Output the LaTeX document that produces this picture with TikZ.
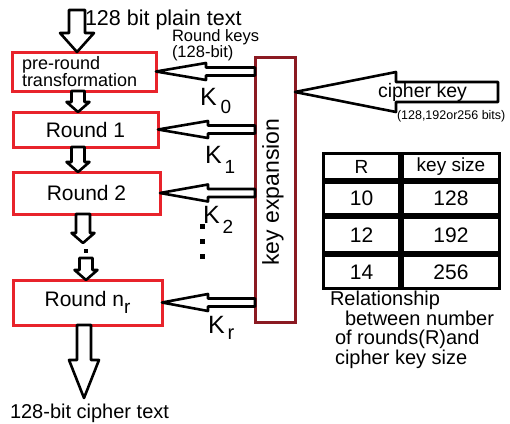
\documentclass[tikz,border=0pt]{standalone}
\usepackage{fontspec}
\setmainfont{Liberation Sans}
\usetikzlibrary{calc,matrix}
\definecolor{boxred}{HTML}{E8232B}
\definecolor{keyred}{HTML}{8B1A22}
\tikzset{
  fs/.style={font=\fontsize{#1}{#1}\selectfont},
  redbox/.style={draw=boxred, line width=3pt, inner sep=0pt, outer sep=0pt, fs=21},
  blk/.style={draw=black, fill=white, line width=2.6pt, line join=round},
  vblk/.style n args={3}{to path={let \p1=(\tikztostart),\p2=(\tikztotarget) in
     (\x1-#1pt,\y1) -- (\x1-#1pt,\y2+#3pt) -- (\x1-#2pt,\y2+#3pt) -- (\x1,\y2)
     -- (\x1+#2pt,\y2+#3pt) -- (\x1+#1pt,\y2+#3pt) -- (\x1+#1pt,\y1) -- cycle}},
  hblk/.style n args={3}{to path={let \p1=(\tikztostart),\p2=(\tikztotarget) in
     (\x1,\y1+#1pt) -- (\x2+#3pt,\y1+#1pt) -- (\x2+#3pt,\y1+#2pt) -- (\x2,\y1)
     -- (\x2+#3pt,\y1-#2pt) -- (\x2+#3pt,\y1-#1pt) -- (\x1,\y1-#1pt) -- cycle}},
  txt/.style={inner sep=0pt, outer sep=0pt},
  klabel/.style={txt, fs=25, anchor=base west},
  dotsty/.style={fill=black, rectangle, inner sep=0pt, minimum size=#1},
}
\begin{document}
\begin{tikzpicture}[x=1pt,y=-1pt]
\useasboundingbox[fill=white] (0,0) rectangle (510,423);

% round boxes
\node[redbox, minimum width=144pt, minimum height=39pt, align=left, text width=124pt,
      font=\fontsize{18}{17}\selectfont] (pre) at (84,71.5) {pre-round\\transformation};
\node[redbox, minimum width=145pt, minimum height=35pt] (r1) at (85.5,129.5) {Round 1};
\node[redbox, minimum width=147pt, minimum height=42pt] (r2) at (86.5,193) {Round 2};
\node[redbox, minimum width=149pt, minimum height=45pt] (rn) at (87.5,302.5)
   {Round n\raisebox{-7pt}{\fontsize{19}{19}\selectfont r}};

% key expansion box
\node[draw=keyred, line width=3pt, minimum width=40pt, minimum height=265pt,
      inner sep=0pt, outer sep=0pt] (key) at (275,189.5) {};
\node[txt, rotate=90, fs=23] (keytxt) at (273,192) {key expansion};

% texts
\node[txt, fs=21.5, anchor=base west] (plain) at (85,25) {128 bit plain text};
\node[txt, anchor=north west, align=left, font=\fontsize{16.5}{16}\selectfont]
   (rk) at (172,30) {Round keys\\(128-bit)};
\node[txt, fs=20, anchor=base west] (ctext) at (10,418) {128-bit cipher text};

% down block arrows
\coordinate (ptin) at (77,10);
\draw[blk, vblk={8}{17}{19}] (ptin) to (ptin |- pre.north);
\draw[blk, vblk={6.5}{11.5}{10}] ([xshift=-6pt]pre.south) to ([xshift=-6pt]pre.south |- r1.north);
\draw[blk, vblk={6.5}{11.5}{10}] ([xshift=-7.5pt]r1.south) to ([xshift=-7.5pt]r1.south |- r2.north);
\coordinate (d1) at (83,243);
\draw[blk, vblk={7}{11.5}{10}] (r2.south -| d1) to (d1);
\node[dotsty=4pt] (mid) at (86,251) {};
\coordinate (d2) at (86,258);
\draw[blk, vblk={6.5}{11.5}{10}] (d2) to (d2 |- rn.north);
\coordinate (out) at (84,398);
\draw[blk, vblk={7}{15}{38}] (rn.south -| out) to (out);

% key arrows
\draw[blk, hblk={4}{8.5}{50}] (key.west |- pre.east) to (pre.east);
\draw[blk, hblk={4}{8.5}{50}] (key.west |- r1.east) to (r1.east);
\draw[blk, hblk={4}{8.5}{48}] (key.west |- r2.east) to (r2.east);
\draw[blk, hblk={4}{8.5}{46}] (key.west |- rn.east) to (rn.east);

% K labels
\node[klabel] (k0) at (200,105) {K\hspace{4pt}\raisebox{-8pt}{\fontsize{19}{19}\selectfont 0}};
\node[klabel] (k1) at (205,163) {K\hspace{3pt}\raisebox{-10pt}{\fontsize{19}{19}\selectfont 1}};
\node[klabel] (k2) at (203,223) {K\hspace{3pt}\raisebox{-10pt}{\fontsize{19}{19}\selectfont 2}};
\node[klabel] (kr) at (208,333) {K\hspace{3pt}\raisebox{-6pt}{\fontsize{20}{20}\selectfont r}};
\node[dotsty=5pt] (v1) at (202,226) {};
\node[dotsty=5pt] (v2) at (202,241) {};
\node[dotsty=5pt] (v3) at (202,256) {};

% cipher key arrow
\coordinate (cks) at (498,92);
\draw[blk, hblk={10}{20}{101}] (cks) to (key.east |- cks);
\node[txt, fs=19.5, anchor=base west] (ck) at (378,97) {cipher key};
\node[txt, fs=12.5, anchor=base west] (ckb) at (397,119) {(128,192or256 bits)};

% table
\matrix (tab) [matrix of nodes, anchor=north west, inner sep=0pt, outer sep=0pt,
   column sep=0pt, row sep=0pt,
   nodes={draw, line width=3pt, inner sep=0pt, outer sep=0pt, anchor=center, fs=21},
   column 1/.style={nodes={minimum width=76pt}},
   column 2/.style={nodes={minimum width=97pt}},
   row 1/.style={nodes={minimum height=26pt, fs=19}},
   row 2/.style={nodes={minimum height=32pt}},
   row 3/.style={nodes={minimum height=35pt}},
   row 4/.style={nodes={minimum height=33pt}}] at (322,152) {
R & key size\\
10 & 128\\
12 & 192\\
14 & 256\\
};

% caption
\node[txt, anchor=north west, align=left, font=\fontsize{20}{19.5}\selectfont] (cap) at (330,291)
  {Relationship\\\hspace*{15pt}between number\\\hspace*{5pt}of rounds(R)and\\\hspace*{5pt}cipher key size};
\end{tikzpicture}
\end{document}
